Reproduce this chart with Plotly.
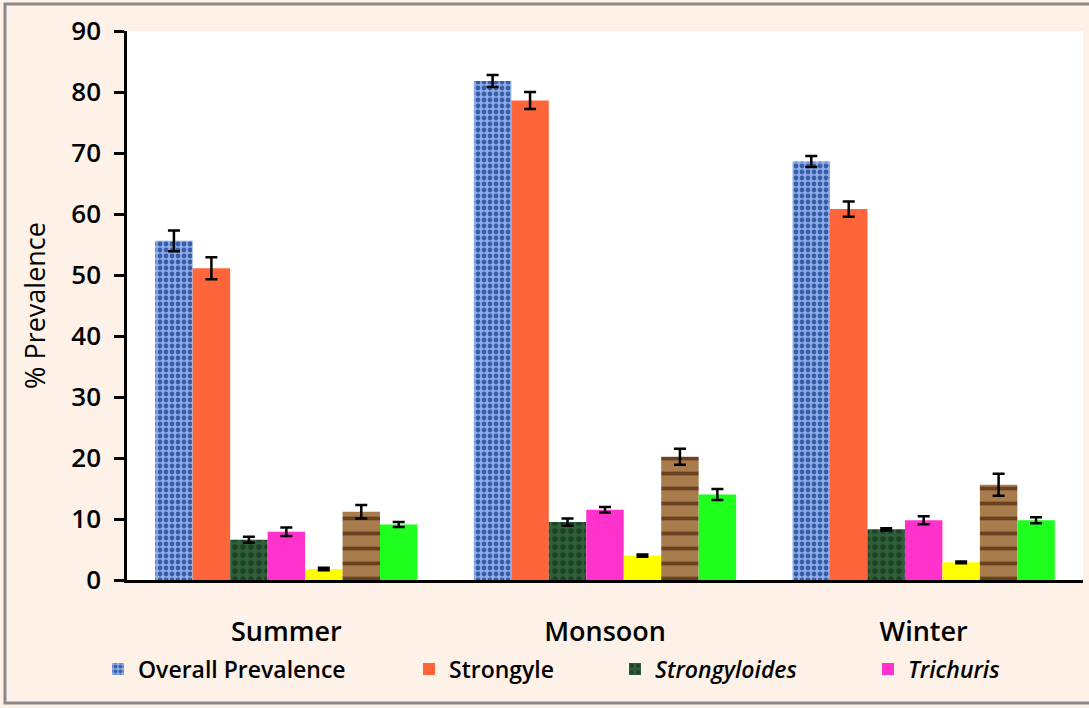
import plotly.graph_objects as go

# Seasonal prevalence (%) of gastrointestinal parasites
seasons = ["Summer", "Monsoon", "Winter"]

overall = [55.6, 81.8, 68.6]
overall_err = [1.7, 1.0, 0.9]

strongyle = [51.1, 78.6, 60.8]
strongyle_err = [1.8, 1.4, 1.25]

strongyloides = [6.6, 9.5, 8.3]
strongyloides_err = [0.5, 0.6, 0.2]

trichuris = [7.9, 11.5, 9.8]
trichuris_err = [0.7, 0.45, 0.65]

series5 = [1.8, 4.0, 2.9]
series5_err = [0.2, 0.2, 0.15]

series6 = [11.2, 20.2, 15.6]
series6_err = [1.1, 1.3, 1.8]

series7 = [9.1, 14.0, 9.8]
series7_err = [0.4, 0.9, 0.5]

y_ticks = [0, 10, 20, 30, 40, 50, 60, 70, 80, 90]

FONT = "Open Sans, Lato, DejaVu Sans, sans-serif"
PEACH = "#FDF1E8"

# width, height and margins in px, used to place paper-referenced items
W, H = 1089, 708
ML, MR, MT, MB = 127, 6, 31, 128
PW, PH = W - ML - MR, H - MT - MB


def px_x(px):
    return (px - ML) / PW


def px_y(py):
    return (H - MB - py) / PH


def err(vals):
    return dict(type="data", array=vals, visible=True, color="black",
                thickness=2.5, width=6)


series = [
    dict(name="Overall Prevalence", y=overall, e=overall_err, legend="legend",
         marker=dict(color="#86A7E4",
                     pattern=dict(shape=".", bgcolor="#8CADEA", fgcolor="#3A5EA6",
                                  size=6, solidity=0.5, fillmode="replace"))),
    dict(name="Strongyle", y=strongyle, e=strongyle_err, legend="legend2",
         marker=dict(color="#FF653A")),
    dict(name="<i>Strongyloides</i>", y=strongyloides, e=strongyloides_err,
         legend="legend3",
         marker=dict(color="#2C5733",
                     pattern=dict(shape=".", bgcolor="#30603A", fgcolor="#1F4226",
                                  size=8, solidity=0.4, fillmode="replace"))),
    dict(name="<i>Trichuris</i>", y=trichuris, e=trichuris_err, legend="legend4",
         marker=dict(color="#FF33CC")),
    dict(name="Series 5", y=series5, e=series5_err, legend=None,
         marker=dict(color="#FFFF00")),
    dict(name="Series 6", y=series6, e=series6_err, legend=None,
         marker=dict(color="#A47748",
                     pattern=dict(shape="-", bgcolor="#A97C4E", fgcolor="#6A4220",
                                  size=15, solidity=0.25, fillmode="replace"))),
    dict(name="Series 7", y=series7, e=series7_err, legend=None,
         marker=dict(color="#1EFF1E")),
]

fig = go.Figure()
for s in series:
    m = dict(s["marker"])
    m["line"] = dict(width=0)
    kw = dict(x=seasons, y=s["y"], name=s["name"], marker=m,
              error_y=err(s["e"]))
    if s["legend"] is None:
        kw["showlegend"] = False
    else:
        kw["legend"] = s["legend"]
    fig.add_trace(go.Bar(**kw))

legend_font = dict(family=FONT, size=23, color="black", weight=600)
legend_x = {"legend": 98, "legend2": 409, "legend3": 615, "legend4": 868}
legend_layouts = {}
for key, xpx in legend_x.items():
    legend_layouts[key] = dict(
        orientation="h", x=px_x(xpx), xanchor="left",
        y=px_y(669), yanchor="middle",
        bgcolor="rgba(0,0,0,0)", borderwidth=0,
        font=legend_font, itemwidth=30,
    )

fig.update_layout(
    width=W, height=H,
    margin=dict(l=ML, r=MR, t=MT, b=MB, pad=0),
    paper_bgcolor=PEACH,
    plot_bgcolor="white",
    barmode="group",
    bargap=0.177,
    bargroupgap=0,
    font=dict(family=FONT, color="black"),
    xaxis=dict(
        showline=True, linecolor="black", linewidth=2.5,
        ticks="", showgrid=False, zeroline=False,
        tickfont=dict(family=FONT, size=27, color="black", weight=600),
        ticklabelstandoff=26,
    ),
    yaxis=dict(
        range=[0, 90], tickvals=y_ticks,
        showline=True, linecolor="black", linewidth=2.5,
        ticks="outside", ticklen=10, tickwidth=2.5, tickcolor="black",
        showgrid=False, zeroline=False,
        tickfont=dict(family=FONT, size=26, color="black", weight=600),
        ticklabelstandoff=8,
        title=dict(text="% Prevalence", standoff=18,
                   font=dict(family=FONT, size=27, color="black")),
    ),
    shapes=[
        dict(type="rect", xref="paper", yref="paper",
             x0=px_x(5), x1=px_x(1100), y0=px_y(703), y1=px_y(4),
             line=dict(color="#8A8A8A", width=3), fillcolor="rgba(0,0,0,0)",
             layer="above"),
    ],
    **legend_layouts,
)

fig.write_html("out.html")
